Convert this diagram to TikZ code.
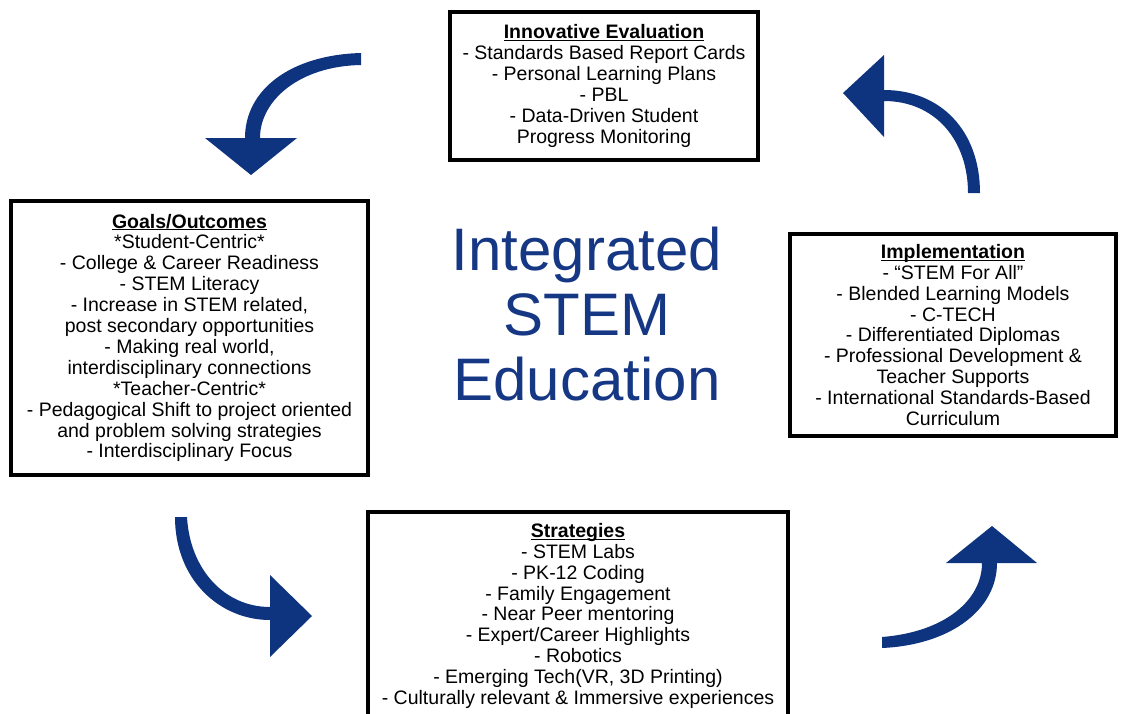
\documentclass[tikz,border=0pt]{standalone}
\usepackage{fontspec}
\setmainfont{Liberation Sans}
\definecolor{navy}{RGB}{14,52,128}
\definecolor{navytext}{RGB}{22,56,132}
\newcommand{\boxtitle}[1]{\rule{0pt}{14pt}\underline{\smash{\textbf{#1}}}}
\begin{document}
\begin{tikzpicture}[x=1pt,y=-1pt,
  box/.style={draw=black,line width=3.5pt,align=center,inner sep=0pt,font=\fontsize{19.5}{20.9}\selectfont},
  arrowfill/.style={fill=navy,draw=none}]
\useasboundingbox (0,0) rectangle (1122,713);
\fill[white] (0,0) rectangle (1122,713);
\node[box,minimum width=308pt,minimum height=148pt] (eval) at (604,86)
 {\boxtitle{Innovative Evaluation}\\
  - Standards Based Report Cards\\
  - Personal Learning Plans\\
  - PBL\\
  - Data-Driven Student\\
  Progress Monitoring};
\node[box,minimum width=357pt,minimum height=274pt] (goals) at (189.5,338)
 {\boxtitle{Goals/Outcomes}\\
  *Student-Centric*\\
  - College \& Career Readiness\\
  - STEM Literacy\\
  - Increase in STEM related,\\
  post secondary opportunities\\
  - Making real world,\\
  interdisciplinary connections\\
  *Teacher-Centric*\\
  - Pedagogical Shift to project oriented\\
  and problem solving strategies\\
  - Interdisciplinary Focus};
\node[box,minimum width=326pt,minimum height=202pt] (impl) at (953,335)
 {\boxtitle{Implementation}\\
  - “STEM For All”\\
  - Blended Learning Models\\
  - C-TECH\\
  - Differentiated Diplomas\\
  - Professional Development \&\\
  Teacher Supports\\
  - International Standards-Based\\
  Curriculum};
\node[box,minimum width=420pt,minimum height=208pt] (strat) at (578,616)
 {\boxtitle{Strategies}\\
  - STEM Labs\\
  - PK-12 Coding\\
  - Family Engagement\\
  - Near Peer mentoring\\
  - Expert/Career Highlights\\
  - Robotics\\
  - Emerging Tech(VR, 3D Printing)\\
  - Culturally relevant \& Immersive experiences};
\node[text=navytext,font=\fontsize{60}{65}\selectfont,align=center] (center) at (587,314)
 {Integrated\\STEM\\Education};
% curved arrows
\fill[arrowfill] (361,53) .. controls (290,55) and (245,90) .. (245,138) -- (205,138) -- (251,175) -- (297,138) -- (260,138) .. controls (260,100) and (300,66) .. (361,65) -- cycle;
\fill[arrowfill] (980,193) .. controls (980,130) and (940,90) .. (884,90) -- (884,55) -- (843,93) -- (884,137) -- (884,101) .. controls (935,101) and (968,140) .. (968,193) -- cycle;
\fill[arrowfill] (175,517) .. controls (175,580) and (220,620) .. (270,620) -- (270,657) -- (312,616) -- (270,575) -- (270,607) .. controls (225,607) and (190,570) .. (187,517) -- cycle;
\fill[arrowfill] (882,648) .. controls (950,645) and (997,610) .. (997,563) -- (1037,563) -- (992,526) -- (946,563) -- (982,563) .. controls (982,600) and (945,632) .. (882,637) -- cycle;
\end{tikzpicture}
\end{document}
